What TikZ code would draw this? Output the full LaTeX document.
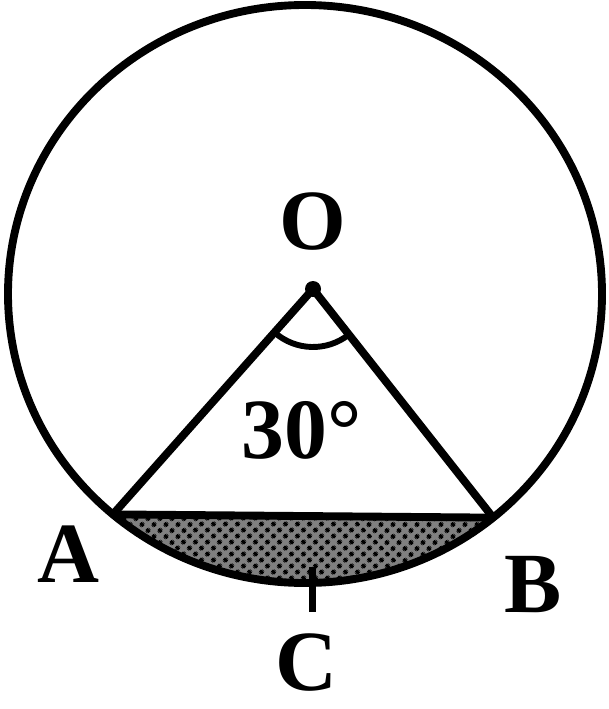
\documentclass[tikz,border=0pt]{standalone}
\usepackage{fontspec}
\setmainfont{Liberation Serif}
\usetikzlibrary{patterns.meta}

\begin{document}
\begin{tikzpicture}[
    x=0.025cm, y=-0.025cm,
    line join=round,
    figline/.style={draw, line width=5.6pt},
    anglemark/.style={draw, line width=4.2pt},
    segshade/.style={preaction={fill=black!50}, pattern={Dots[radius=1.9pt, distance=6.5pt, angle=45]}},
    every node/.style={font=\fontsize{61}{61}\selectfont\bfseries, inner sep=0pt}
]
\useasboundingbox (0,0) rectangle (608,709);
% points of the figure
\coordinate (K) at (305,294);
\coordinate (O) at (313,289);
\coordinate (A) at ([shift={(130.3:297 and 289)}]K);
\coordinate (B) at ([shift={(50.7:297 and 289)}]K);
\coordinate (C) at ([shift={(88.6:297 and 289)}]K);

% shaded segment
\path[segshade] (A) arc[start angle=130.3, end angle=50.7, x radius=297, y radius=289] -- cycle;

\draw[figline] (K) ellipse[x radius=297, y radius=289];
\draw[figline] (A) -- (B);
\draw[figline] (A) -- (O) -- (B);
\draw[line width=5pt] ([shift={(0,-16)}]C) -- ([shift={(0,29)}]C);
\draw[anglemark] ([shift={(131.6:58)}]O) arc[start angle=131.6, end angle=51.8, radius=58];
\fill (O) circle[radius=8];

% labels
\node[anchor=base] (labO) at (313,249) {O};
\node[anchor=base] (labA) at (68,582) {A};
\node[anchor=base] (labB) at (533,612) {B};
\node[anchor=base] (labC) at (306,690) {C};
\node[anchor=base] (ang) at (302,458) {30°};
\end{tikzpicture}
\end{document}
